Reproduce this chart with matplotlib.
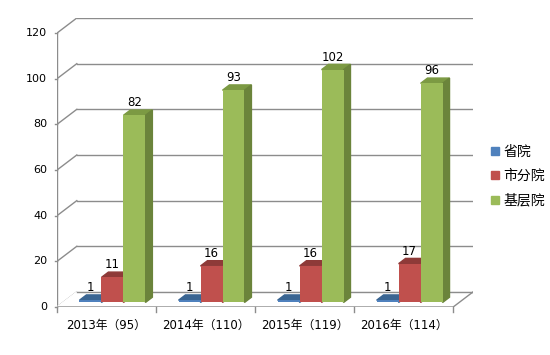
import matplotlib
matplotlib.use("Agg")
from matplotlib import pyplot as plt
from matplotlib.lines import Line2D

plt.rcParams['font.family'] = ['DejaVu Sans', 'Noto Sans CJK SC']

categories = ["2013年（95）", "2014年（110）", "2015年（119）", "2016年（114）"]
series_names = ["省院", "市分院", "基层院"]
sheng = [1, 1, 1, 1]
shifen = [11, 16, 16, 17]
jiceng = [82, 93, 102, 96]
yticks = [0, 20, 40, 60, 80, 100, 120]

series = [sheng, shifen, jiceng]
front_cols = ["#4F81BD", "#C0504D", "#9BBB59"]
top_cols = ["#3A6592", "#8E3A38", "#7C9A43"]
side_cols = ["#3A6592", "#963D3A", "#6B843B"]

# depth of the 3d box in data units
DX = 0.2
DY = 6.6
d0, d1 = 0.3, 0.65
bw = 0.222

fig = plt.figure(figsize=(5.5, 3.55), dpi=100)
ax = fig.add_axes([57/550, 48/355, 416/550, 289/355])
ax.set_xlim(-0.5, 3.5 + DX)
ax.set_ylim(0, 120 + DY)
ax.axis('off')

grid_c = "#8C8C8C"
n = len(categories)
# back wall grid + side wall
for v in yticks:
    ax.plot([-0.5 + DX, n - 0.5 + DX], [v + DY, v + DY], color=grid_c, lw=1, zorder=1)
    ax.plot([-0.5, -0.5 + DX], [v, v + DY], color=grid_c, lw=1, zorder=1)
    ax.plot([-0.5 - 0.02, -0.5], [v, v], color=grid_c, lw=1, zorder=1, clip_on=False)
    ax.text(-0.5 - 0.1, v, str(v), ha='right', va='center', fontsize=8)
# front axis line and floor
ax.plot([-0.5, -0.5], [0, 120], color=grid_c, lw=1, zorder=1)
ax.fill([-0.5, n - 0.5, n - 0.5 + DX, -0.5 + DX], [0, 0, DY, DY], color="white", zorder=1.5)
ax.plot([-0.5, n - 0.5, n - 0.5 + DX], [0, 0, DY], color=grid_c, lw=1, zorder=2)
ax.plot([-0.5 + DX, n - 0.5 + DX], [DY, DY], color=grid_c, lw=1, zorder=2)
for i in range(n + 1):
    ax.plot([i - 0.5, i - 0.5], [0, -2], color=grid_c, lw=1, zorder=2, clip_on=False)
for i, c in enumerate(categories):
    ax.text(i, -8, c, ha='center', va='center', fontsize=8.5)


def P(x, y, d):
    return x + d * DX, y + d * DY


for i in range(n):
    for s, vals in enumerate(series):
        v = vals[i]
        xl = i + (s - 1) * bw - bw / 2
        xr = xl + bw
        # top face
        pts = [P(xl, v, d0), P(xr, v, d0), P(xr, v, d1), P(xl, v, d1)]
        ax.fill([p[0] for p in pts], [p[1] for p in pts], color=top_cols[s], zorder=3)
        # side face
        pts = [P(xr, 0, d0), P(xr, 0, d1), P(xr, v, d1), P(xr, v, d0)]
        ax.fill([p[0] for p in pts], [p[1] for p in pts], color=side_cols[s], zorder=3)
        # front face
        x0, y0 = P(xl, 0, d0)
        ax.bar(x0, v, bottom=y0, width=bw, align='edge', color=front_cols[s], zorder=3)
        tx, ty = P((xl + xr) / 2, v, d0)
        ax.annotate(str(v), (tx, ty), xytext=(0, 9), textcoords='offset points',
                    ha='center', va='center', fontsize=8.5, zorder=4)

handles = [Line2D([], [], marker='s', ls='', color=c, markersize=6) for c in front_cols]
fig.legend(handles, series_names, loc='center left', bbox_to_anchor=(476/550, 1 - 176/355),
           frameon=False, fontsize=10, handletextpad=0.05, labelspacing=0.75, handlelength=1)

fig.savefig("out.png", dpi=100)
